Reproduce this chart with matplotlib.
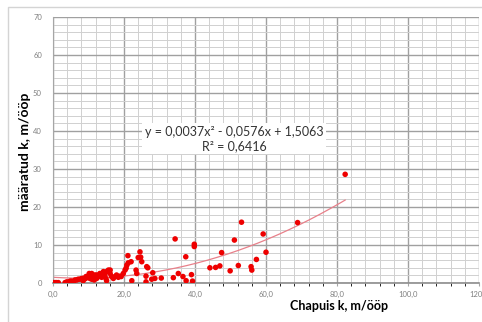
import numpy as np
import matplotlib
matplotlib.use("Agg")
import matplotlib.pyplot as plt
from matplotlib.patches import Rectangle
from matplotlib.ticker import MultipleLocator, FuncFormatter

plt.rcParams["font.family"] = ["Lato", "DejaVu Sans"]

# Chapuis estimate vs measured hydraulic conductivity (m/ööp)
chapuis_k = [0.1, 0.6, 1.0, 1.5, 3.4, 3.9, 4.8, 5.3, 5.7, 6.2, 6.7, 7.1, 7.6, 8.1, 8.5, 8.5,
             9.0, 9.3, 9.5, 9.7, 10.2, 10.2, 10.4, 10.4, 10.9, 10.9, 11.4, 11.6, 11.8, 12.3,
             12.3, 12.8, 13.2, 13.7, 13.7, 14.2, 14.2, 14.6, 14.9, 15.1, 15.1, 15.6, 16.1,
             16.1, 16.5, 17.0, 17.5, 17.9, 18.4, 18.9, 19.2, 19.8,
             20.3, 20.6, 20.8, 21.2, 21.1, 22.0, 22.2, 23.4, 23.6, 24.5, 24.0, 24.7, 25.0,
             26.4, 26.7, 26.2, 26.2, 28.1, 27.8, 28.7,
             30.5, 33.9, 34.4, 35.3, 36.6, 37.4, 37.5, 39.0, 39.3, 39.8, 39.8,
             44.2, 45.8, 47.0, 47.5, 49.9, 51.1, 52.2, 53.1, 55.8, 56.0, 57.3, 59.2, 60.0,
             68.9, 82.3]
maaratud_k = [0.1, 0.1, 0.1, 0.1, 0.1, 0.3, 0.5, 0.5, 0.3, 0.8, 0.8, 1.0, 1.0, 1.2, 0.6, 1.2,
              1.1, 1.7, 1.4, 1.5, 2.1, 2.5, 1.2, 1.8, 2.5, 1.0, 1.7, 0.8, 2.1, 1.2,
              2.1, 1.7, 2.5, 1.8, 1.5, 3.0, 2.1, 2.1, 1.2, 0.6, 3.0, 3.4, 2.5,
              3.4, 1.7, 1.2, 1.7, 2.1, 1.5, 1.8, 1.7, 2.5,
              3.4, 3.9, 4.7, 5.3, 7.2, 5.6, 0.6, 3.4, 2.5, 8.2, 6.7, 6.8, 5.6,
              4.3, 4.0, 1.8, 0.3, 2.7, 1.0, 1.2,
              1.3, 1.4, 11.6, 2.5, 1.7, 6.9, 0.6, 2.2, 0.5, 10.2, 9.6,
              4.0, 4.1, 4.5, 8.0, 3.2, 11.3, 4.6, 16.0, 4.3, 3.4, 6.2, 12.9, 8.1,
              15.9, 28.6]

# polynomial trendline (order 2) and its fit quality
coef = [0.0037, -0.0576, 1.5063]
r2 = 0.6416

fig = plt.figure(figsize=(4.82, 3.22), dpi=100)
ax = fig.add_axes([53 / 482, 1 - 283 / 322, 426 / 482, 266 / 322])

# light frame around the whole chart area
fig.patches.append(Rectangle((8 / 482, -0.2), 1.2, 1 - 7 / 322 + 0.2, transform=fig.transFigure,
                             fill=False, edgecolor="#D4D4D4", lw=1.0, zorder=0))

ax.set_xlim(0, 120)
ax.set_ylim(0, 70)
ax.xaxis.set_major_locator(MultipleLocator(20))
ax.xaxis.set_minor_locator(MultipleLocator(4))
ax.yaxis.set_major_locator(MultipleLocator(10))
ax.yaxis.set_minor_locator(MultipleLocator(2))
ax.grid(which="major", color="#A0A0A0", lw=1.0)
ax.grid(which="minor", color="#D0D0D0", lw=0.7)
ax.set_axisbelow(True)

ax.xaxis.set_major_formatter(FuncFormatter(lambda v, p: f"{v:.1f}".replace(".", ",")))
ax.yaxis.set_major_formatter(FuncFormatter(lambda v, p: f"{v:.0f}"))
ax.tick_params(axis="both", which="major", labelsize=5.5, labelcolor="#808080", color="#A6A6A6")
ax.tick_params(axis="x", which="both", length=2.5, direction="out")
ax.tick_params(axis="y", which="both", length=0, pad=8)

for side in ["top", "right"]:
    ax.spines[side].set_visible(False)
ax.spines["left"].set_color("#A6A6A6")
ax.spines["bottom"].set_color("#8C8C8C")
ax.spines["bottom"].set_linewidth(1.2)

xs = np.linspace(0, max(chapuis_k), 200)
ax.plot(xs, np.polyval(coef, xs), color="#E8808A", lw=0.9, zorder=2)
ax.scatter(chapuis_k, maaratud_k, s=16, color="#EE0000", edgecolors="none", zorder=3)

eq = (f"y = {coef[0]:.4f}x² - {abs(coef[1]):.4f}x + {coef[2]:.4f}".replace(".", ",")
      + "\n" + f"R² = {r2:.4f}".replace(".", ","))
ax.text(51, 37.9, eq, ha="center", va="center", fontsize=9, color="#333333",
        linespacing=1.15, bbox=dict(facecolor="white", edgecolor="none", pad=2))

fig.text(25 / 482, 1 - 152 / 322, "määratud k, m/ööp", rotation=90, ha="center", va="center",
         fontsize=10, fontweight="bold")
fig.text(339 / 482, 1 - 306 / 322, "Chapuis k, m/ööp", ha="center", va="center",
         fontsize=9, fontweight="bold")

fig.savefig("out.png", dpi=100)
